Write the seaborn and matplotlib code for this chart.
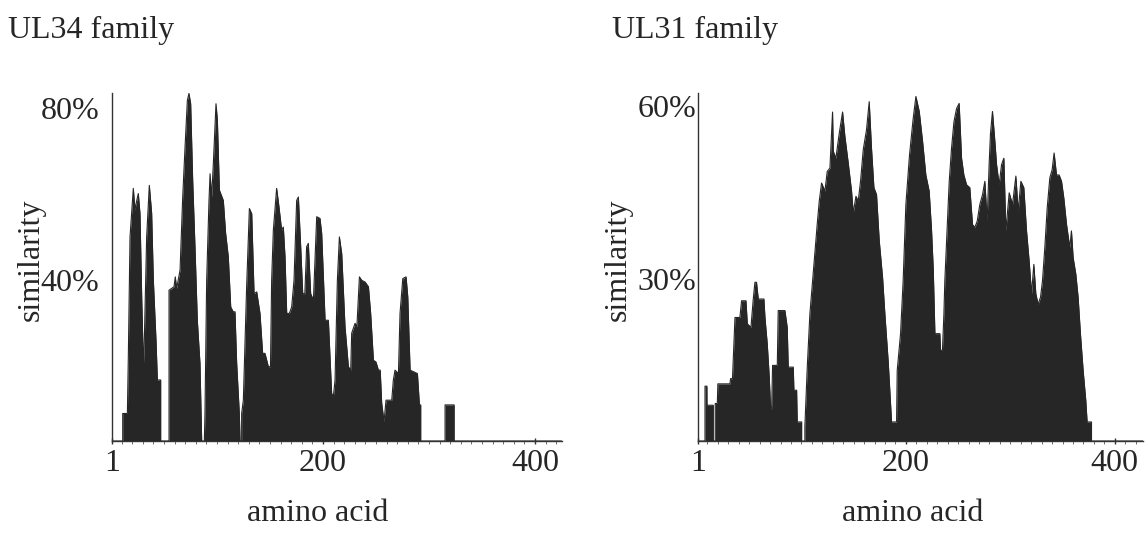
import numpy as np
import matplotlib.pyplot as plt
from matplotlib.ticker import MultipleLocator
import seaborn as sns

# similarity profiles (amino acid position, % similarity)
ul34_pos = [
    1, 11.1, 11.1, 15.5, 16.4, 18, 21.1, 22.7, 23.5, 25.8,
    27.4, 29, 30.6, 31.5, 33.7, 36.2, 38.4, 40, 42.5, 43.8,
    46.9, 46.9, 54.8, 54.8, 59.5, 60.7, 62, 65.2, 67.7, 69.9,
    72.1, 73.6, 75.2, 77.1, 79.3, 81.5, 84, 85.6, 88.1, 88.7,
    90.3, 92.5, 93.5, 95, 96.6, 99.1, 100.4, 102.3, 106, 108.2,
    110.7, 113, 115.5, 117, 118.6, 121.1, 121.8, 123.3, 123.3, 124.9,
    128, 130.6, 132.8, 135, 137.5, 140.6, 143.1, 145.3, 148.5, 150.5,
    151.6, 153.2, 156.3, 158.5, 161, 162.6, 164.2, 165.8, 168.3, 170.5,
    172.7, 175.2, 176.8, 179, 180.9, 182.9, 184.6, 186.2, 188.4, 191,
    194.1, 197.2, 198.8, 202, 205.1, 208.2, 209.8, 211.4, 213.6, 215.5,
    217.7, 220.8, 224, 226.2, 227.1, 230.3, 232, 234.4, 236.6, 239.7,
    242.9, 245, 247.6, 250, 252.3, 254, 255.4, 257.6, 259.5, 264.9,
    266.4, 268, 271.2, 272.7, 275.3, 278.4, 280, 282.2, 289.1, 291,
    292.2, 292.2, 315.2, 315.2, 323.7, 323.7, 425]
ul34_sim = [
    0, 0, 6.4, 6.4, 19.6, 47.5, 58.8, 53.7, 55, 57.6,
    52.9, 33.6, 17.3, 23.5, 47.5, 59.5, 53, 37.4, 23.5, 14.2,
    14.2, 0, 0, 35.1, 35.9, 38.2, 35.5, 39.8, 56.8, 68.4,
    79.3, 80.9, 78.5, 60.7, 45, 28, 18, 0, 0, 6.4,
    37.4, 56, 62.2, 56.8, 64.6, 78.5, 74.7, 58.4, 56, 48.3,
    42.9, 31.2, 30, 30.1, 18.1, 6.4, 0, 0, 6.4, 9.5,
    35.9, 54.1, 52.9, 34.3, 34.7, 29.7, 20.4, 20.4, 17.3, 17.3,
    37.4, 49.1, 58.8, 54.5, 49.1, 49.8, 42.9, 29.7, 29.7, 31.2,
    37.4, 56, 56.8, 45.2, 34.3, 34.3, 45.2, 46, 34.3, 32.8,
    52.2, 51.8, 48.3, 28.1, 28.1, 11.1, 10.3, 14.2, 37.4, 47.5,
    43.6, 26.6, 17.3, 16.5, 25.1, 27.4, 26.6, 38.2, 37.4, 37,
    35.9, 29.7, 18.8, 18.4, 16.5, 16.5, 8.8, 4.5, 9.5, 9.5,
    14.2, 16.5, 15.7, 29.7, 37.8, 38.2, 33.6, 16.5, 15.7, 8.4,
    8.4, 0, 0, 8.4, 8.4, 0, 0]

ul31_pos = [
    1, 7.7, 7.7, 9.5, 9.6, 15.6, 15.6, 17.5, 17.5, 19.5,
    20, 31.6, 32.2, 34, 36.4, 41.1, 42.7, 46.9, 48.2, 51.7,
    53.9, 55.5, 57, 58.7, 64.1, 65.1, 67.3, 69.2, 70.5, 71.5,
    72.4, 76.9, 77.8, 84.2, 86.4, 87.4, 92.2, 92.8, 95.4, 96,
    100.2, 100.2, 103.3, 103.3, 105.6, 108.1, 110.7, 112.9, 115.1, 117.1,
    119.3, 122.5, 124.7, 127.3, 129.8, 130.5, 133, 136.2, 139.4, 141.6,
    144.8, 148, 149.6, 152.2, 154.4, 156.6, 159.2, 162.3, 164.9, 167.1,
    169.4, 171.9, 174.5, 177.7, 179.9, 183.1, 186.3, 191.1, 191.7, 194.9,
    197.4, 200, 203.5, 207, 209.6, 212.8, 216, 219.1, 222.3, 224.6,
    226.2, 227.8, 232.5, 233.2, 235, 236.4, 237.3, 239.6, 241.5, 243.7,
    246, 248.5, 251, 253.3, 255.5, 258.1, 261.2, 263.8, 266, 268.3,
    270.8, 273.4, 275.6, 277.8, 279.7, 281, 282.9, 285.2, 286.8, 289.3,
    291.6, 293.8, 295.7, 298.9, 302.1, 305.3, 307.5, 310.1, 312.9, 315.5,
    318, 320.3, 322.5, 324.4, 326.6, 328.9, 330.8, 333, 335.3, 337.8,
    340, 341.9, 344.2, 346.7, 349, 351.2, 353.8, 356.9, 358.5, 360.1,
    362.7, 364.9, 367.1, 369.7, 372.2, 373.5, 377.7, 377.7, 427]
ul31_sim = [
    0, 0, 9.5, 9.5, 6.2, 6.2, 0, 0, 6.5, 6.5,
    9.9, 9.9, 10.8, 10.8, 21.4, 21.4, 24.3, 24.3, 20.3, 19.7,
    24.6, 27.5, 27.5, 24.6, 24.6, 21.4, 16.8, 11.1, 5.6, 5.6,
    13.1, 13.1, 22.6, 22.6, 19.7, 12.8, 12.8, 8.8, 8.8, 3.3,
    3.3, 0, 0, 2.5, 12.8, 22, 27.8, 32.9, 37.5, 41.6,
    44.7, 43.3, 46.7, 47.3, 57, 50.2, 49, 53.3, 57, 52.8,
    48.2, 43.3, 39.5, 42.4, 41.6, 45, 50.5, 53.9, 58.8, 50.7,
    43.9, 42.7, 34.7, 28.3, 22, 13.7, 3.3, 3.3, 12.2, 18.6,
    27.8, 41, 49.6, 55.9, 59.7, 57.1, 51.9, 46.1, 43.3, 36.4,
    29.8, 18.6, 18.6, 15.7, 15.7, 22, 27.8, 37, 45, 50.7,
    55.3, 57.6, 58.5, 49, 46.1, 44.4, 43.9, 37.5, 37, 38.1,
    41, 42.7, 45, 38.1, 47.9, 53.3, 57.1, 51.9, 47.9, 44.4,
    47.9, 49, 36.4, 43, 41, 45.9, 39.8, 45, 43.9, 36.4,
    31.2, 25.5, 30.6, 25.5, 23.7, 24.9, 27.8, 33.5, 40.4, 45.6,
    47, 49.9, 46.1, 46.1, 45, 42.1, 37.5, 33.5, 36.4, 31.8,
    28.9, 24.9, 18.6, 12.2, 7.1, 3.3, 3.3, 0, 0]

x_ticks = [1, 200, 400]
x_ticklabels = ['1', '200', '400']
ul34_yticks = [40, 80]
ul34_yticklabels = ['40%', '80%']
ul31_yticks = [30, 60]
ul31_yticklabels = ['30%', '60%']

sns.set_style('ticks')
plt.rcParams['font.family'] = ['Liberation Serif', 'DejaVu Serif']

bar_color = '#262626'
fs = 23

fig = plt.figure(figsize=(11.48, 5.33), dpi=100)
ax1 = fig.add_axes([112 / 1148, 92 / 533, 450 / 1148, 348 / 533])
ax2 = fig.add_axes([698 / 1148, 92 / 533, 445 / 1148, 348 / 533])


def draw(ax, pos, sim, ymax, xmax, yticks, yticklabels, ypad, xlab_x):
    sns.lineplot(x=pos, y=sim, sort=False, estimator=None, color=bar_color,
                 lw=0.8, ax=ax)
    ax.fill_between(pos, sim, color=bar_color, lw=0)
    ax.set_xlim(1, xmax)
    ax.set_ylim(0, ymax)
    ax.set_xticks(x_ticks)
    ax.set_xticklabels(x_ticklabels, fontsize=fs)
    ax.xaxis.set_minor_locator(MultipleLocator(10))
    ax.set_yticks(yticks)
    ax.set_yticklabels(yticklabels, fontsize=fs)
    plt.setp(ax.get_yticklabels(), va='top')
    ax.tick_params(axis='x', which='major', length=4, width=1, pad=4,
                   direction='inout', color='#333333')
    ax.tick_params(axis='x', which='minor', length=2, width=0.6,
                   direction='out', color='#555555')
    ax.tick_params(axis='y', length=0, pad=ypad)
    sns.despine(ax=ax)
    for side in ['left', 'bottom']:
        ax.spines[side].set_color('#333333')
        ax.spines[side].set_linewidth(1.0)
    ax.set_xlabel('amino acid', fontsize=fs, va='center')
    ax.xaxis.set_label_coords(xlab_x, -0.207)
    ax.set_ylabel('similarity', fontsize=fs, va='center')
    ax.yaxis.set_label_coords(-0.18, 0.52)


draw(ax1, ul34_pos, ul34_sim, 81, 425.5, ul34_yticks, ul34_yticklabels, 9, 0.456)
draw(ax2, ul31_pos, ul31_sim, 60.3, 427, ul31_yticks, ul31_yticklabels, 1, 0.483)

fig.text(8 / 1148, 1 - 30 / 533, 'UL34 family', fontsize=fs, ha='left', va='center')
fig.text(612 / 1148, 1 - 30 / 533, 'UL31 family', fontsize=fs, ha='left', va='center')

fig.savefig('out.png', dpi=100)
